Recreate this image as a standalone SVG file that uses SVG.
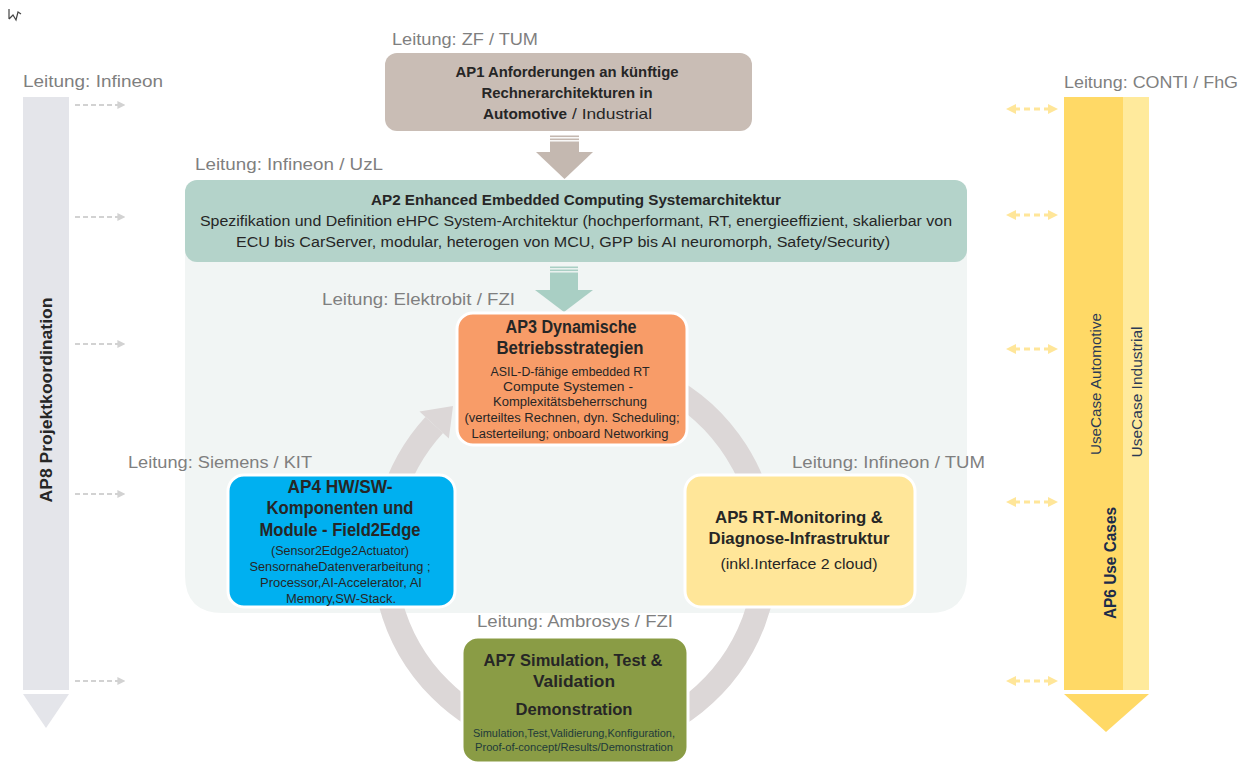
<svg xmlns="http://www.w3.org/2000/svg" width="1245" height="765" viewBox="0 0 1245 765">
<defs>
<style>
text{font-family:"Liberation Sans",Arial,sans-serif}
.lbl{font-size:16px;fill:#7f7f7f}
.c{text-anchor:middle;fill:#262626}
.b{font-weight:bold}
.box{stroke:#ffffff;stroke-width:3}
.ldash{stroke:#d2d2d2;stroke-width:2;stroke-dasharray:5 3;fill:none}
.rdash{stroke:#ffe699;stroke-width:3;stroke-dasharray:6 4;fill:none}
</style>
<marker id="ag" viewBox="0 0 10 10" refX="2" refY="5" markerWidth="8" markerHeight="8" markerUnits="userSpaceOnUse" orient="auto"><path d="M0,0 L10,5 L0,10 z" fill="#d2d2d2"/></marker>
<marker id="ay" viewBox="0 0 10 10" refX="2" refY="5" markerWidth="10" markerHeight="10" markerUnits="userSpaceOnUse" orient="auto-start-reverse"><path d="M0,0 L10,5 L0,10 z" fill="#ffe699"/></marker>
</defs>
<rect width="1245" height="765" fill="#ffffff"/>
<path d="M9,9 L9,19 M9,19 L13,15 L16,20 L18,12 L21,14" fill="none" stroke="#444" stroke-width="1.2"/>

<!-- background panel -->
<path id="panel" d="M185,200 L967,200 L967,575 Q967,613 929,613 L223,613 Q185,613 185,575 Z" fill="#f1f5f4"/>

<!-- AP8 column -->
<g id="ap8">
<rect x="23" y="97" width="46" height="593" fill="#e4e5ea"/>
<polygon points="23,694 69,694 46,728" fill="#e4e5ea"/>
<text class="c b" font-size="16" transform="translate(52,400) rotate(-90)" textLength="205" lengthAdjust="spacingAndGlyphs">AP8  Projektkoordination</text>
<text class="lbl" x="23" y="87" textLength="140" lengthAdjust="spacingAndGlyphs">Leitung: Infineon</text>
</g>

<!-- AP6 column -->
<g id="ap6">
<rect x="1064" y="97" width="59" height="593" fill="#ffd966"/>
<rect x="1123" y="97" width="26" height="593" fill="#ffea9c"/>
<polygon points="1064,694 1149,694 1106,732" fill="#ffd966"/>
<text font-size="14" fill="#2b3a55" text-anchor="middle" transform="translate(1101,384) rotate(-90)" textLength="142" lengthAdjust="spacingAndGlyphs">UseCase Automotive</text>
<text font-size="14" fill="#2b3a55" text-anchor="middle" transform="translate(1142,392) rotate(-90)" textLength="131" lengthAdjust="spacingAndGlyphs">UseCase Industrial</text>
<text class="b" font-size="16" fill="#1c2b4a" text-anchor="middle" transform="translate(1116,563) rotate(-90)" textLength="112" lengthAdjust="spacingAndGlyphs">AP6 Use Cases</text>
<text class="lbl" x="1064" y="88" textLength="174" lengthAdjust="spacingAndGlyphs">Leitung: CONTI / FhG</text>
</g>

<!-- connectors -->
<g id="connectors">
<line class="ldash" x1="75" y1="105" x2="119" y2="105" marker-end="url(#ag)"/>
<line class="ldash" x1="75" y1="217" x2="119" y2="217" marker-end="url(#ag)"/>
<line class="ldash" x1="75" y1="344" x2="119" y2="344" marker-end="url(#ag)"/>
<line class="ldash" x1="75" y1="494" x2="119" y2="494" marker-end="url(#ag)"/>
<line class="ldash" x1="75" y1="681" x2="119" y2="681" marker-end="url(#ag)"/>
<line class="rdash" x1="1014" y1="109" x2="1050" y2="109" marker-start="url(#ay)" marker-end="url(#ay)"/>
<line class="rdash" x1="1014" y1="215" x2="1050" y2="215" marker-start="url(#ay)" marker-end="url(#ay)"/>
<line class="rdash" x1="1014" y1="349" x2="1050" y2="349" marker-start="url(#ay)" marker-end="url(#ay)"/>
<line class="rdash" x1="1014" y1="502" x2="1050" y2="502" marker-start="url(#ay)" marker-end="url(#ay)"/>
<line class="rdash" x1="1014" y1="681" x2="1050" y2="681" marker-start="url(#ay)" marker-end="url(#ay)"/>
<!-- AP1 -> AP2 block arrow -->
<g fill="#c4b8b0">
<rect x="550" y="135.5" width="29" height="1.6"/>
<rect x="550" y="138.5" width="29" height="1.6"/>
<rect x="550" y="141.5" width="29" height="11"/>
<polygon points="536,152 593,152 564.5,179"/>
</g>
<!-- AP2 -> AP3 block arrow -->
<g fill="#a9cfc4">
<rect x="550" y="266.5" width="28" height="1.6"/>
<rect x="550" y="269.5" width="28" height="1.6"/>
<rect x="550" y="272.5" width="28" height="18"/>
<polygon points="535,290 593,290 564,312"/>
</g>
<!-- cycle ring -->
<path d="M479.5,388.6 A191,191 0 1 1 434.2,425" fill="none" stroke="#dcd7d7" stroke-width="24"/>
<polygon points="419.5,411.5 448.9,438.5 453,406" fill="#dcd7d7"/>
</g>

<!-- AP1 -->
<g id="ap1">
<text class="lbl" x="392" y="45" textLength="146" lengthAdjust="spacingAndGlyphs">Leitung: ZF / TUM</text>
<rect x="385" y="53" width="367" height="78" rx="12" fill="#c9bdb5"/>
<text class="c b" x="567" y="77" font-size="14.5" textLength="223" lengthAdjust="spacingAndGlyphs">AP1 Anforderungen an künftige</text>
<text class="c b" x="567" y="98" font-size="14.5" textLength="171" lengthAdjust="spacingAndGlyphs">Rechnerarchitekturen in</text>
<text class="b" x="483" y="119" font-size="14.5" fill="#262626" textLength="84" lengthAdjust="spacingAndGlyphs">Automotive</text>
<text x="572" y="119" font-size="14.5" fill="#262626" textLength="80" lengthAdjust="spacingAndGlyphs">/ Industrial</text>
</g>

<!-- AP2 -->
<g id="ap2">
<text class="lbl" x="195" y="170" textLength="188" lengthAdjust="spacingAndGlyphs">Leitung: Infineon / UzL</text>
<rect x="185" y="180" width="782" height="82" rx="12" fill="#b4d3ca"/>
<text class="c b" x="576" y="205" font-size="14" fill="#1a1a1a" textLength="410" lengthAdjust="spacingAndGlyphs">AP2 Enhanced  Embedded Computing Systemarchitektur</text>
<text class="c" x="576" y="226" font-size="14" fill="#1a1a1a" textLength="752" lengthAdjust="spacingAndGlyphs">Spezifikation und Definition eHPC System-Architektur  (hochperformant, RT, energieeffizient,   skalierbar von</text>
<text class="c" x="563" y="247" font-size="14" fill="#1a1a1a" textLength="654" lengthAdjust="spacingAndGlyphs">ECU bis CarServer, modular, heterogen  von MCU, GPP bis AI neuromorph, Safety/Security)</text>
</g>

<!-- AP3 -->
<g id="ap3">
<text class="lbl" x="322" y="305" textLength="193" lengthAdjust="spacingAndGlyphs">Leitung: Elektrobit / FZI</text>
<rect class="box" x="457" y="313" width="230" height="132" rx="16" fill="#f89c68"/>
<text class="c b" x="571" y="333" font-size="17.5" textLength="131" lengthAdjust="spacingAndGlyphs">AP3 Dynamische</text>
<text class="c b" x="570" y="354" font-size="17.5" textLength="147" lengthAdjust="spacingAndGlyphs">Betriebsstrategien</text>
<text class="c" x="570" y="376" font-size="12" textLength="159" lengthAdjust="spacingAndGlyphs">ASIL-D-fähige embedded RT</text>
<text class="c" x="568" y="391" font-size="12" textLength="130" lengthAdjust="spacingAndGlyphs">Compute Systemen -</text>
<text class="c" x="570" y="406" font-size="12" textLength="154" lengthAdjust="spacingAndGlyphs">Komplexitätsbeherrschung</text>
<text class="c" x="572" y="422" font-size="12" textLength="215" lengthAdjust="spacingAndGlyphs">(verteiltes Rechnen, dyn. Scheduling;</text>
<text class="c" x="570" y="438" font-size="12" textLength="197" lengthAdjust="spacingAndGlyphs">Lasterteilung; onboard Networking</text>
</g>

<!-- AP4 -->
<g id="ap4">
<text class="lbl" x="128" y="468" textLength="184" lengthAdjust="spacingAndGlyphs">Leitung: Siemens / KIT</text>
<rect class="box" x="228" y="475" width="227" height="132" rx="16" fill="#00b0f0"/>
<text class="c b" x="340" y="493" font-size="18" textLength="105" lengthAdjust="spacingAndGlyphs">AP4 HW/SW-</text>
<text class="c b" x="340" y="514" font-size="18" textLength="147" lengthAdjust="spacingAndGlyphs">Komponenten und</text>
<text class="c b" x="340" y="536" font-size="18" textLength="161" lengthAdjust="spacingAndGlyphs">Module - Field2Edge</text>
<text class="c" x="340" y="555" font-size="12" textLength="138" lengthAdjust="spacingAndGlyphs">(Sensor2Edge2Actuator)</text>
<text class="c" x="340" y="571" font-size="12" textLength="181" lengthAdjust="spacingAndGlyphs">SensornaheDatenverarbeitung ;</text>
<text class="c" x="341" y="587" font-size="12" textLength="162" lengthAdjust="spacingAndGlyphs">Processor,AI-Accelerator, AI</text>
<text class="c" x="341" y="603" font-size="12" textLength="110" lengthAdjust="spacingAndGlyphs">Memory,SW-Stack.</text>
</g>

<!-- AP5 -->
<g id="ap5">
<text class="lbl" x="792" y="468" textLength="193" lengthAdjust="spacingAndGlyphs">Leitung: Infineon / TUM</text>
<rect class="box" x="685" y="475" width="230" height="132" rx="16" fill="#ffe699"/>
<text class="c b" x="799" y="523" font-size="16.5" textLength="168" lengthAdjust="spacingAndGlyphs">AP5 RT-Monitoring &amp;</text>
<text class="c b" x="799" y="544" font-size="16.5" textLength="181" lengthAdjust="spacingAndGlyphs">Diagnose-Infrastruktur</text>
<text class="c" x="799" y="569" font-size="14" textLength="157" lengthAdjust="spacingAndGlyphs">(inkl.Interface 2 cloud)</text>
</g>

<!-- AP7 -->
<g id="ap7">
<text class="lbl" x="477" y="627" textLength="196" lengthAdjust="spacingAndGlyphs">Leitung: Ambrosys / FZI</text>
<rect class="box" x="462" y="637" width="226" height="126" rx="16" fill="#8a9c45"/>
<text class="c b" x="573" y="666" font-size="17" textLength="179" lengthAdjust="spacingAndGlyphs">AP7 Simulation, Test &amp;</text>
<text class="c b" x="574" y="687" font-size="17" textLength="82" lengthAdjust="spacingAndGlyphs">Validation</text>
<text class="c b" x="574" y="715" font-size="17" textLength="117" lengthAdjust="spacingAndGlyphs">Demonstration</text>
<text x="574" y="737" font-size="10.5" text-anchor="middle" fill="#1e3a3a" textLength="202" lengthAdjust="spacingAndGlyphs">Simulation,Test,Validierung,Konfiguration,</text>
<text x="574" y="751" font-size="10.5" text-anchor="middle" fill="#1e3a3a" textLength="198" lengthAdjust="spacingAndGlyphs">Proof-of-concept/Results/Demonstration</text>
</g>
</svg>
